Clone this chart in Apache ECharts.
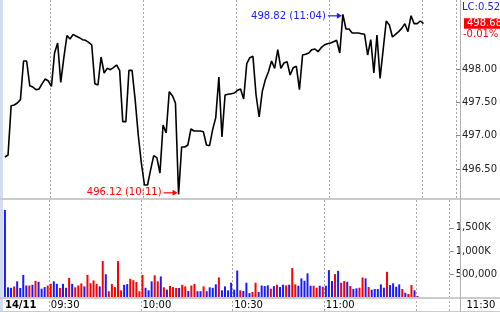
<!DOCTYPE html>
<html><head><meta charset="utf-8">
<script src="https://cdn.jsdelivr.net/npm/echarts@6/dist/echarts.min.js"></script>
<style>html,body{margin:0;padding:0;background:#fff}#c{width:500px;height:312px}</style>
</head><body><div id="c"></div>
<script>
// ---------- data ----------
const dayLabel = '14/11';
const sessionStart = '09:15';
const slotCount = 146;               // 09:15 .. 11:40, one slot per minute
const times = [];
(function(){const p=sessionStart.split(':').map(Number);const s=p[0]*60+p[1];
  for(let k=0;k<slotCount;k++){const m=s+k;times.push(String(Math.floor(m/60)).padStart(2,'0')+':'+String(m%60).padStart(2,'0'));}})();

const priceValues = [
 496.68,496.71,497.45,497.46,497.49,497.54,498.12,498.12,497.75,497.73,
 497.69,497.70,497.78,497.85,497.82,497.74,498.24,498.39,497.80,498.17,
 498.50,498.45,498.52,498.49,498.47,498.44,498.43,498.40,498.36,497.78,
 497.76,498.18,497.94,498.01,497.99,498.02,498.06,497.98,497.21,497.21,
 497.98,497.98,497.54,497.01,496.59,496.26,496.26,496.49,496.70,496.67,
 496.44,497.16,497.04,497.66,497.60,497.49,496.12,496.83,496.83,496.86,
 497.10,497.07,497.07,497.07,497.06,496.86,496.85,497.09,497.27,497.88,
 496.98,497.61,497.62,497.63,497.64,497.68,497.70,497.55,498.08,498.17,
 498.19,497.61,497.28,497.66,497.84,497.96,498.12,498.01,498.29,498.01,
 498.09,498.11,497.91,498.02,498.04,497.69,498.21,498.22,498.24,498.29,
 498.30,498.26,498.32,498.36,498.38,498.39,498.41,498.43,498.24,498.82,
 498.60,498.60,498.54,498.54,498.54,498.53,498.52,498.21,498.44,497.94,
 498.51,497.86,498.29,498.72,498.66,498.48,498.52,498.56,498.61,498.68,
 498.56,498.80,498.68,498.68,498.72,498.68
];

const volumeValues = [
 1890000,210000,200000,230000,340000,195000,480000,250000,250000,265000,
 350000,330000,180000,215000,250000,285000,340000,285000,195000,285000,
 200000,415000,285000,210000,250000,295000,230000,480000,300000,360000,
 285000,230000,780000,495000,125000,280000,215000,780000,145000,265000,
 280000,395000,365000,325000,125000,480000,200000,145000,340000,470000,
 340000,445000,210000,160000,240000,215000,195000,195000,265000,230000,
 130000,250000,285000,125000,125000,230000,125000,210000,200000,275000,
 425000,145000,230000,145000,310000,160000,575000,145000,130000,310000,
 85000,110000,310000,110000,250000,237000,252000,180000,237000,267000,
 216000,267000,252000,267000,627000,274000,244000,404000,352000,512000,
 244000,244000,201000,244000,222000,244000,583000,346000,497000,568000,
 309000,346000,330000,238000,173000,188000,201000,425000,404000,216000,
 158000,173000,173000,274000,201000,546000,259000,296000,222000,274000,
 173000,93000,65000,259000,145000,22000
];

// u = up minute (blue bar), d = down minute (red bar)
const volumeDirections = [
 'u','u','u','d','u','u','u','u','d','u',
 'd','u','u','u','d','d','u','u','d','u',
 'u','d','u','d','d','d','u','d','d','d',
 'd','u','d','u','d','d','d','d','d','u',
 'u','d','d','d','d','d','u','u','u','d',
 'd','u','d','u','d','d','d','u','d','d',
 'u','d','d','u','u','d','u','u','u','u',
 'd','u','u','u','u','u','u','d','u','u',
 'u','d','d','u','u','u','u','d','u','d',
 'u','u','d','u','d','d','u','u','u','u',
 'u','d','d','u','d','u','u','u','d','u',
 'd','d','u','d','u','u','d','d','u','d',
 'u','u','u','u','u','d','u','u','u','u',
 'd','u','d','d','u','d'
];
const priceTicks = [496.5, 497, 497.5, 498];
const volumeTicks = [500000, 1000000, 1500000];
const lastChangeLabel = 'LC:0.52';
const changePctLabel = '-0.01%';

// ---------- chart ----------
const FONT = '"DejaVu Sans", Verdana, sans-serif';
const BLUE = '#1a1aff', RED = '#ff0000';
const dashed = {color:'#a8a8a8', width:1, type:[2,2]};
const isGridTick = i => i % 30 === 15;
const commas = n => String(Math.round(n)).replace(/\B(?=(\d{3})+(?!\d))/g, ',');

const chart = echarts.init(document.getElementById('c'), null, {renderer:'canvas'});
chart.setOption({
  animation:false,
  backgroundColor:'#ffffff',
  grid:[
    {left:3.4, right:40, top:0, height:198},
    {left:3.4, right:40, top:200, height:97}
  ],
  xAxis:[
    {type:'category', gridIndex:0, data:times, boundaryGap:true,
     axisLine:{show:false}, axisTick:{show:false}, axisLabel:{show:false},
     splitLine:{show:true, interval:(i)=>isGridTick(i), lineStyle:dashed}},
    {type:'category', gridIndex:1, data:times, boundaryGap:true,
     axisLine:{show:false},
     axisTick:{show:true, interval:(i)=>isGridTick(i), length:15, lineStyle:dashed},
     axisLabel:{show:true, interval:(i)=> i===0 || (isGridTick(i) && i<135),
       formatter:(v,i)=> i===0 ? '{b|'+dayLabel+'}' : v,
       align:'left', margin:3, color:'#000', fontSize:10, fontFamily:FONT,
       rich:{b:{fontWeight:'bold', fontSize:10, fontFamily:FONT, color:'#000'}}},
     splitLine:{show:true, interval:(i)=>isGridTick(i), lineStyle:dashed}}
  ],
  yAxis:[
    {type:'value', gridIndex:0, position:'right', min:496.065, max:499.035, scale:true,
     axisLine:{show:false},
     axisTick:{show:true, length:4, customValues:priceTicks, lineStyle:{color:'#888'}},
     axisLabel:{customValues:priceTicks, formatter:v=>v.toFixed(2), margin:6,
       color:'#222', fontSize:10, fontFamily:FONT},
     splitLine:{show:false}},
    {type:'value', gridIndex:1, position:'right', min:0, max:2105000,
     axisLine:{show:false},
     axisTick:{show:true, length:4, customValues:volumeTicks, lineStyle:{color:'#888'}},
     axisLabel:{customValues:volumeTicks, margin:6, color:'#222', fontSize:10, fontFamily:FONT,
       formatter:v=> v>=1000000 ? commas(v/1000)+'K' : commas(v)},
     splitLine:{show:false}}
  ],
  series:[
    {type:'line', xAxisIndex:0, yAxisIndex:0, data:priceValues, showSymbol:false,
     lineStyle:{color:'#000', width:1.6}, silent:true},
    {type:'bar', xAxisIndex:1, yAxisIndex:1, barWidth:2,
     data:volumeValues.map((v,i)=>({value:v, itemStyle:{color: volumeDirections[i]==='u'?BLUE:RED}})),
     silent:true}
  ]
});

// ---------- annotations positioned through the chart's scales ----------
let hi=0, lo=0;
priceValues.forEach((v,i)=>{ if(v>priceValues[hi]) hi=i; if(v<priceValues[lo]) lo=i; });
const last = priceValues.length-1;
const [hx,hy] = chart.convertToPixel({gridIndex:0},[hi, priceValues[hi]]);
const [lx,ly] = chart.convertToPixel({gridIndex:0},[lo, priceValues[lo]]);
const [, py] = chart.convertToPixel({gridIndex:0},[last, priceValues[last]]);
const [, volBase] = chart.convertToPixel({gridIndex:1},[0, 0]);

function arrow(tipX, y, color){
  return [
    {type:'line', shape:{x1:tipX-14, y1:y, x2:tipX-4, y2:y}, style:{stroke:color, lineWidth:1.2}, z:20},
    {type:'polygon', shape:{points:[[tipX,y],[tipX-5,y-3],[tipX-5,y+3]]}, style:{fill:color}, z:20}
  ];
}
const txt = (x,y,text,fill,align)=>({type:'text', x, y, z:20,
  style:{text, fill, font:'10px '+FONT, align:align||'left', verticalAlign:'middle'}});

const g = [
  {type:'rect', shape:{x:0,y:0,width:3,height:312}, style:{fill:'#d3dcee'}, z:15},
  {type:'rect', shape:{x:0,y:198,width:500,height:2}, style:{fill:'#cbcbcb'}, z:15},
  {type:'rect', shape:{x:0,y:volBase,width:500,height:2}, style:{fill:'#cbcbcb'}, z:15},
  {type:'rect', shape:{x:0,y:311,width:500,height:1}, style:{fill:'#cbcbcb'}, z:15},
  {type:'rect', shape:{x:460,y:0,width:1,height:312}, style:{fill:'#b0b0b0'}, z:15},
  txt(hx-17, hy+2.5, priceValues[hi].toFixed(2)+' ('+times[hi]+')', BLUE, 'right'),
  ...arrow(hx-1, hy+1.5, BLUE),
  txt(lx-17, ly-1.5, priceValues[lo].toFixed(2)+' ('+times[lo]+')', RED, 'right'),
  ...arrow(lx-1, ly-1.5, RED),
  txt(462, 7.5, lastChangeLabel, BLUE, 'left'),
  {type:'rect', shape:{x:464, y:py-5.5, width:36, height:10.5}, style:{fill:RED}, z:20},
  txt(467, py, priceValues[last].toFixed(2), '#ffffff', 'left'),
  txt(463, 34, changePctLabel, RED, 'left'),
  {type:'text', x:466.5, y:volBase+3, z:20,
   style:{text:times[135], fill:'#000', font:'10px '+FONT, align:'left', verticalAlign:'top'}}
];
chart.setOption({graphic:g});
</script>
</body></html>
